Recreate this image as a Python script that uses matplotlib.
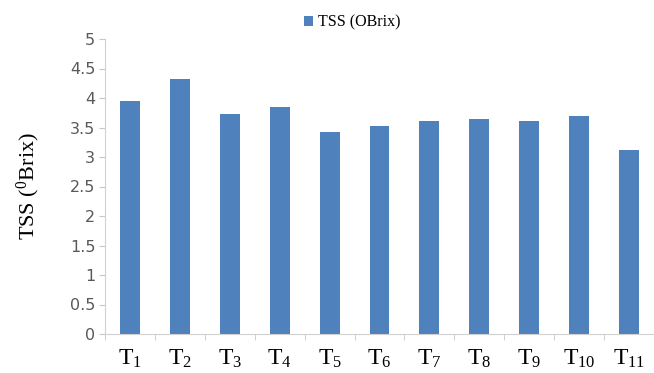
import matplotlib
matplotlib.use("Agg")
import matplotlib.pyplot as plt
import numpy as np

treatments = ["T$_{%d}$" % i for i in range(1, 12)]
tss = [3.95, 4.32, 3.73, 3.85, 3.43, 3.53, 3.61, 3.64, 3.61, 3.69, 3.12]
y_ticks = [0, 0.5, 1, 1.5, 2, 2.5, 3, 3.5, 4, 4.5, 5]
y_tick_labels = ["0", "0.5", "1", "1.5", "2", "2.5", "3", "3.5", "4", "4.5", "5"]

plt.rcParams["mathtext.fontset"] = "custom"
plt.rcParams["mathtext.rm"] = "Liberation Serif"
plt.rcParams["mathtext.it"] = "Liberation Serif"

fig = plt.figure(figsize=(6.54, 3.73), dpi=100)
ax = fig.add_axes([105 / 654, 39 / 373, 549 / 654, 295 / 373])

x = np.arange(len(tss))
ax.bar(x, tss, width=0.4, color="#4f81bd", label="TSS (OBrix)", zorder=2)

ax.set_xlim(-0.5, 10.4)
ax.set_ylim(0, 5)
ax.set_yticks(y_ticks)
ax.set_yticklabels(y_tick_labels, fontsize=11.5, color="#595959", family="DejaVu Sans")
ax.set_xticks(x)
ax.set_xticklabels(treatments, fontsize=17, family="Liberation Serif", color="black")
ax.set_xticks(np.arange(-0.5, len(tss), 1), minor=True)
ax.tick_params(axis="x", which="major", length=0, pad=10)
ax.tick_params(axis="x", which="minor", length=4, color="#c8c8c8", direction="out")
ax.tick_params(axis="y", length=4, color="#c8c8c8", pad=3)

for side in ["top", "right"]:
    ax.spines[side].set_visible(False)
ax.spines["left"].set_color("#d0d0d0")
ax.spines["bottom"].set_color("#d0d0d0")

ax.set_ylabel("TSS ($^{0}$Brix)", fontsize=16, family="Liberation Serif", labelpad=20)

ax.legend(loc="lower center", bbox_to_anchor=(0.45, 1.0), frameon=False,
          handlelength=0.6, handleheight=0.6, handletextpad=0.3,
          borderaxespad=0.15, prop={"family": "Liberation Serif", "size": 11.5})

fig.savefig("out.png", dpi=100)
